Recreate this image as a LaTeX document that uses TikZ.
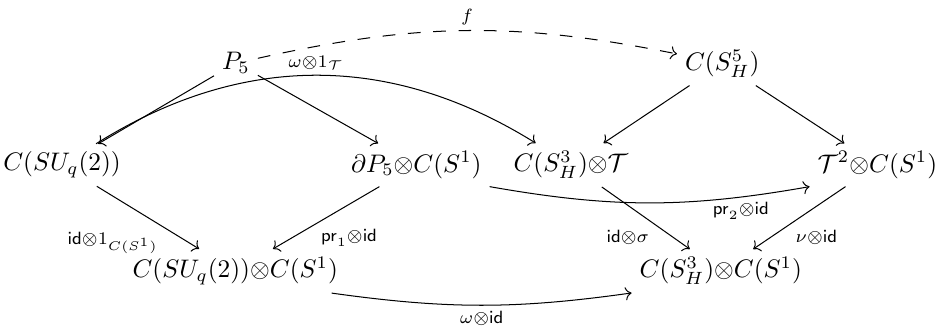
\documentclass[tikz,border=0pt]{standalone}
\usepackage{amsmath,amssymb}
\usetikzlibrary{arrows.meta,positioning,calc}
\tikzset{
  cd/object/.style={inner sep=3pt},
  cd/map/.style={->},
  cd/dashmap/.style={cd/map, dash pattern=on 5pt off 5pt},
  cd/label/.style={font=\scriptsize, inner sep=2pt}
}

\begin{document}
\begin{tikzpicture}
  \useasboundingbox (0,0) rectangle (13,4.532);

  % top row
  \node[cd/object] (p5) at (3.27,3.66) {$P_5$};
  \node[cd/object] (cs5) at (10.01,3.65) {$C(S^5_H)$};

  % middle row
  \node[cd/object] (csu) at (0.86,2.245) {$C(SU_q(2))$};
  \node[cd/object] (dp5) at (5.77,2.245) {$\partial P_5{\otimes}C(S^1)$};
  \node[cd/object] (cs3t) at (7.91,2.245) {$C(S^3_H){\otimes}\mathcal{T}$};
  \node[cd/object] (t2c) at (12.16,2.245) {$\mathcal{T}^2{\otimes}C(S^1)$};

  % bottom row
  \node[cd/object] (csuc) at (3.26,0.776) {$C(SU_q(2)){\otimes}C(S^1)$};
  \node[cd/object] (cs3c) at (9.99,0.776) {$C(S^3_H){\otimes}C(S^1)$};

  \draw[cd/dashmap] (p5) to[bend left=12] node[cd/label, above] {$f$} (cs5);
  \draw[cd/map] (p5) -- (csu);
  \draw[cd/map] (p5) -- (dp5);
  \draw[cd/map] (csu) to[bend left=32] node[cd/label, above] {$\omega{\otimes}1_{\mathcal{T}}$} (cs3t);
  \draw[cd/map] (cs5) -- (cs3t);
  \draw[cd/map] (cs5) -- (t2c);

  \draw[cd/map] (dp5.south east) to[bend right=10] node[cd/label, below, pos=0.8] {$\mathsf{pr}_2{\otimes}\mathsf{id}$} (t2c.south west);

  \draw[cd/map] (csu) -- node[cd/label, below left, pos=0.65] {$\mathsf{id}{\otimes}1_{C(S^1)}$} (csuc);
  \draw[cd/map] (dp5) -- node[cd/label, below right, pos=0.6] {$\mathsf{pr}_1{\otimes}\mathsf{id}$} (csuc);
  \draw[cd/map] (cs3t) -- node[cd/label, below left, pos=0.6] {$\mathsf{id}{\otimes}\sigma$} (cs3c);
  \draw[cd/map] (t2c) -- node[cd/label, below right, pos=0.6] {$\nu{\otimes}\mathsf{id}$} (cs3c);

  \draw[cd/map] ([xshift=-2mm]csuc.south east) to[bend right=8] node[cd/label, below] {$\omega{\otimes}\mathsf{id}$} (cs3c.south west);
\end{tikzpicture}
\end{document}
